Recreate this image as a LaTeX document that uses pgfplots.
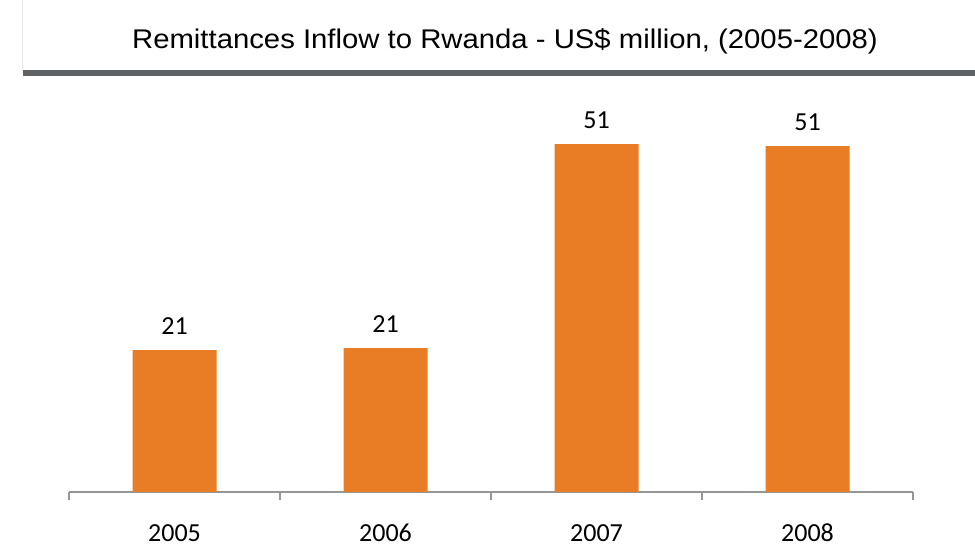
\documentclass[border=0pt]{standalone}
\usepackage{pgfplots}
\pgfplotsset{compat=1.18}
\usepackage{fontspec}
\setmainfont{Carlito}
\newfontfamily\arialfont{Liberation Sans}
\definecolor{barorange}{RGB}{233,125,38}
\definecolor{axisgray}{RGB}{150,150,150}
\definecolor{rulegray}{RGB}{95,99,101}
\begin{document}
\begin{tikzpicture}[x=1pt,y=1pt]
\fill[white] (0,0) rectangle (975,545);
% title box left border and rule
\draw[line width=1pt, black!8] (22,545) -- (22,472);
\fill[rulegray] (23,469) rectangle (975,475);
\node[anchor=base, inner sep=0pt] at (505,496) {\scalebox{1.085}[1]{\arialfont\fontsize{27}{32}\selectfont Remittances Inflow to Rwanda - US\$ million, (2005-2008)}};
\begin{axis}[
  at={(69pt,53pt)}, anchor=south west,
  scale only axis,
  width=844pt, height=409.4pt,
  xmin=-0.5, xmax=3.5,
  ymin=0, ymax=60,
  axis y line=none,
  axis x line*=bottom,
  x axis line style={axisgray, line width=1.5pt, -},
  xtick={0,1,2,3},
  xticklabels={2005,2006,2007,2008},
  major tick length=0pt,
  minor xtick={-0.5,0.5,1.5,2.5,3.5},
  minor tick length=8pt,
  tick align=outside,
  minor tick style={axisgray, line width=1.5pt},
  xticklabel style={anchor=base, inner sep=0pt, yshift=-50pt, font=\fontsize{26}{30}\selectfont, text=black},
  clip=false,
  ybar, bar width=84pt,
  /pgf/number format/assume math mode=true,
  nodes near coords={\pgfmathprintnumber[fixed, precision=0]{\pgfplotspointmeta}},
  nodes near coords style={anchor=base, yshift=16pt, font=\fontsize{26}{30}\selectfont, text=black},
]
\addplot[fill=barorange, draw=none] coordinates {(0,20.8) (1,21.1) (2,51.0) (3,50.7)};
\end{axis}
\pgfresetboundingbox
\path[use as bounding box] (0,0) rectangle (975,545);
\end{tikzpicture}
\end{document}
